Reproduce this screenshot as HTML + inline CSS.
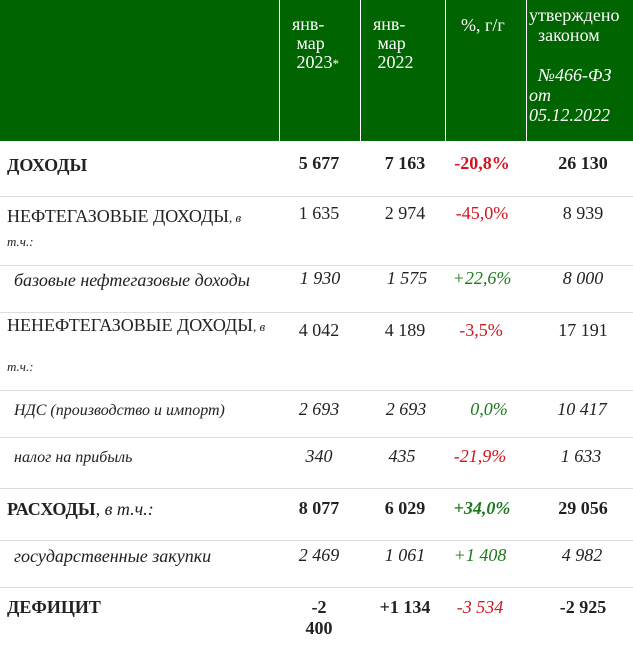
<!DOCTYPE html>
<html><head><meta charset="utf-8"><style>
body{margin:0;width:633px;height:646px;background:#fff;position:relative;overflow:hidden;font-family:"Liberation Serif",serif;font-size:18px;color:#222}
.a{position:absolute;white-space:nowrap;line-height:21px}
.h{position:absolute;top:0;height:141px;background:#006400}
.v{position:absolute;top:0;height:141px;width:1px;background:#fff}
.l{position:absolute;left:0;width:633px;height:1px;background:#ddd}
.w{color:#fff}
.c{transform:translateX(-50%)}
.b{font-weight:bold}
.i{font-style:italic}
.r{color:#d0161e}.g{color:#1d7a1d}
small{font-size:13px}
</style></head><body>
<div class="h" style="left:0;width:633px"></div>
<div class="v" style="left:279px"></div>
<div class="v" style="left:360px"></div>
<div class="v" style="left:445px"></div>
<div class="v" style="left:526px"></div>
<div class="a w" style="left:292px;top:15px;line-height:19px">янв-<br>&nbsp;мар<br>&nbsp;2023<small>*</small></div>
<div class="a w" style="left:373px;top:15px;line-height:19px">янв-<br>&nbsp;мар<br>&nbsp;2022</div>
<div class="a w" style="left:461px;top:15px">%, г/г</div>
<div class="a w" style="left:529px;top:5px;line-height:20px">утверждено<br>&nbsp;&nbsp;законом<br><br><span class="i">&nbsp;&nbsp;№466-ФЗ<br>от<br>05.12.2022</span></div>

<div class="l" style="top:196px"></div><div class="l" style="top:265px"></div><div class="l" style="top:312px"></div><div class="l" style="top:390px"></div><div class="l" style="top:437px"></div><div class="l" style="top:488px"></div><div class="l" style="top:540px"></div><div class="l" style="top:587px"></div>

<div>
<div class="a b" style="left:7px;top:155px">ДОХОДЫ</div>
<div class="a b c" style="left:319px;top:153px">5 677</div><div class="a b c" style="left:405px;top:153px">7 163</div><div class="a b c r" style="left:482px;top:153px">-20,8%</div><div class="a b c" style="left:583px;top:153px">26 130</div></div>

<div>
<div class="a" style="left:7px;top:205px;line-height:22px">НЕФТЕГАЗОВЫЕ ДОХОДЫ<span class="i"><small>, в</small><br><small>т.ч.:</small></span></div>
<div class="a c" style="left:319px;top:203px">1 635</div><div class="a c" style="left:405px;top:203px">2 974</div><div class="a c r" style="left:482px;top:203px">-45,0%</div><div class="a c" style="left:583px;top:203px">8 939</div></div>

<div class="i">
<div class="a" style="left:14px;top:270px">базовые нефтегазовые доходы</div>
<div class="a c" style="left:320px;top:268px">1 930</div><div class="a c" style="left:407px;top:268px">1 575</div><div class="a c g" style="left:482px;top:268px">+22,6%</div><div class="a c" style="left:583px;top:268px">8 000</div></div>

<div>
<div class="a" style="left:7px;top:315px">НЕНЕФТЕГАЗОВЫЕ ДОХОДЫ<span class="i"><small>, в</small></span></div>
<div class="a i" style="left:7px;top:355px"><small>т.ч.:</small></div>
<div class="a c" style="left:319px;top:320px">4 042</div><div class="a c" style="left:405px;top:320px">4 189</div><div class="a c r" style="left:481px;top:320px">-3,5%</div><div class="a c" style="left:583px;top:320px">17 191</div></div>

<div class="i">
<div class="a" style="left:14px;top:400px;font-size:16px">НДС (производство и импорт)</div>
<div class="a c" style="left:319px;top:399px">2 693</div><div class="a c" style="left:406px;top:399px">2 693</div><div class="a c g" style="left:489px;top:399px">0,0%</div><div class="a c" style="left:582px;top:399px">10 417</div></div>

<div class="i">
<div class="a" style="left:14px;top:447px;font-size:16px">налог на прибыль</div>
<div class="a c" style="left:319px;top:446px">340</div><div class="a c" style="left:402px;top:446px">435</div><div class="a c r" style="left:480px;top:446px">-21,9%</div><div class="a c" style="left:581px;top:446px">1 633</div></div>

<div>
<div class="a b" style="left:7px;top:499px">РАСХОДЫ<span class="i" style="font-weight:normal">, в т.ч.:</span></div>
<div class="a b c" style="left:319px;top:498px">8 077</div><div class="a b c" style="left:405px;top:498px">6 029</div><div class="a b c i g" style="left:482px;top:498px">+34,0%</div><div class="a b c" style="left:583px;top:498px">29 056</div></div>

<div class="i">
<div class="a" style="left:14px;top:546px">государственные закупки</div>
<div class="a c" style="left:319px;top:545px">2 469</div><div class="a c" style="left:405px;top:545px">1 061</div><div class="a c g" style="left:480px;top:545px">+1 408</div><div class="a c" style="left:582px;top:545px">4 982</div></div>

<div>
<div class="a b" style="left:7px;top:597px">ДЕФИЦИТ</div>
<div class="a b c" style="left:319px;top:597px;text-align:center">-2<br>400</div><div class="a b c" style="left:405px;top:597px">+1 134</div><div class="a c i r" style="left:480px;top:597px">-3 534</div><div class="a b c" style="left:583px;top:597px">-2 925</div></div>
</body></html>
